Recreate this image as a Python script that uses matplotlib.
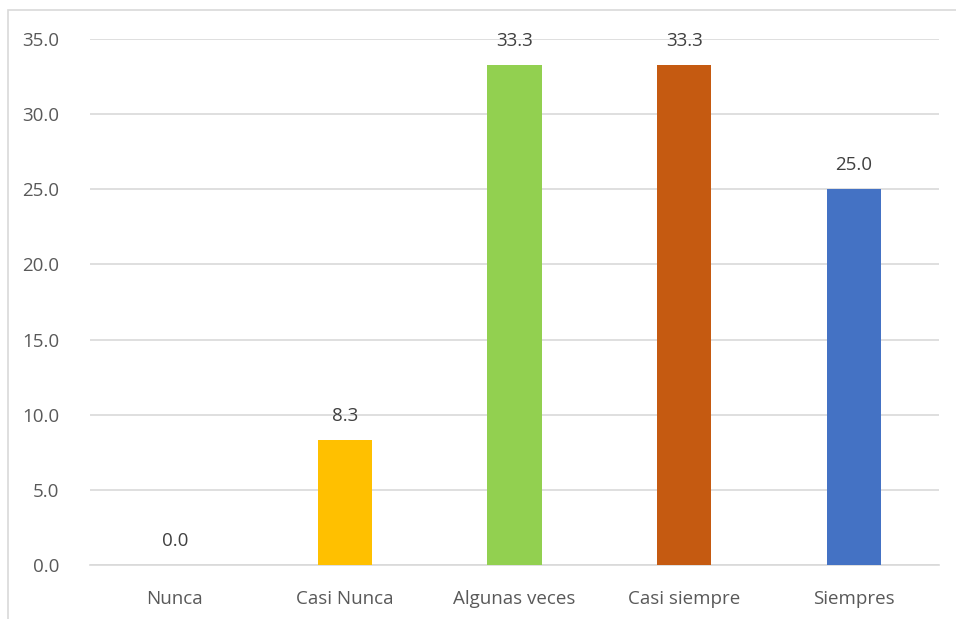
import matplotlib
matplotlib.use("Agg")
import matplotlib.pyplot as plt
from matplotlib.patches import Rectangle

categories = ["Nunca", "Casi Nunca", "Algunas veces", "Casi siempre", "Siempres"]
values = [0.0, 8.3, 33.3, 33.3, 25.0]
colors = ["#5B9BD5", "#FFC000", "#92D050", "#C55A11", "#4472C4"]
yticks = [0, 5, 10, 15, 20, 25, 30, 35]

plt.rcParams['font.family'] = ['Open Sans', 'DejaVu Sans']

W, H = 956, 619
fig = plt.figure(figsize=(W/100, H/100), dpi=100)
fig.patches.append(Rectangle((8/W, -0.1), 1.1, 1 - 10/H + 0.1, transform=fig.transFigure,
                             fill=False, edgecolor="#d9d9d9", linewidth=1.2))
ax = fig.add_axes([90/W, (H-565)/H, (939-90)/W, (565-39)/H])
x = list(range(len(categories)))
ax.bar(x, values, width=0.32, color=colors, zorder=3)
for xi, v in zip(x, values):
    ax.text(xi, v + 1.0, f"{v:.1f}", ha="center", va="bottom", fontsize=13.5, color="#404040")
ax.set_xlim(-0.5, 4.5)
ax.set_ylim(0, 35)
ax.set_yticks(yticks)
ax.set_yticklabels([f"{t:.1f}" for t in yticks])
ax.set_xticks(x)
ax.set_xticklabels(categories)
ax.tick_params(axis="both", length=0, labelsize=13.5, labelcolor="#595959")
ax.tick_params(axis="y", pad=22)
ax.tick_params(axis="x", pad=18)
ax.grid(axis="y", color="#d9d9d9", linewidth=1.2, zorder=0)
for s in ["top", "right", "left"]:
    ax.spines[s].set_visible(False)
ax.spines["bottom"].set_color("#d9d9d9")
ax.spines["bottom"].set_linewidth(1.2)
fig.savefig("out.png", dpi=100)
